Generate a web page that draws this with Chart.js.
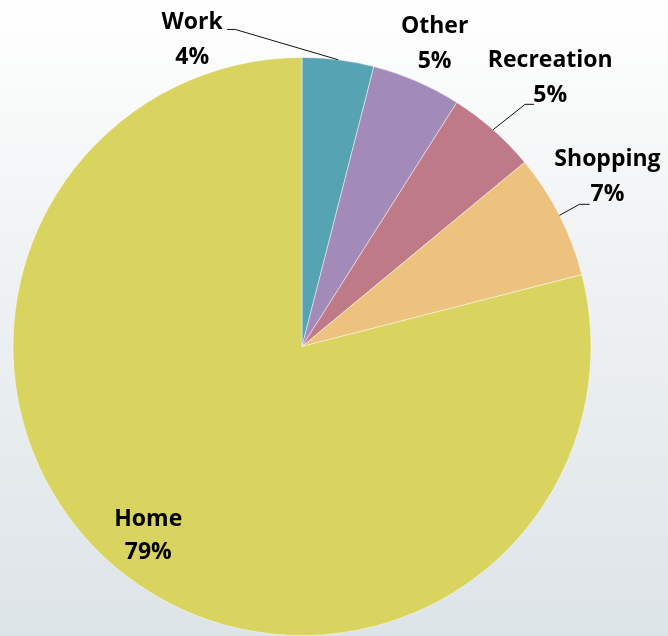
<!DOCTYPE html>
<html><head><meta charset="utf-8">
<script src="https://cdn.jsdelivr.net/npm/chart.js@4"></script>
<style>
html,body{margin:0;padding:0;}
body{width:668px;height:636px;background:linear-gradient(#ffffff 0%,#f3f5f6 30%,#dde4e8 100%);overflow:hidden;}
#wrap{position:relative;width:668px;height:636px;}
</style></head>
<body><div id="wrap"><canvas id="c" width="668" height="636"></canvas></div>
<script>
const categories = ["Work", "Other", "Recreation", "Shopping", "Home"];
const shares = [4, 5, 5, 7, 79];
const percentLabels = ["4%", "5%", "5%", "7%", "79%"];
const colors = ["#56A3B3", "#A38BB9", "#BF7A88", "#EDC27E", "#D9D35F"];

// label layout (relative to pie centre, in units of radius) and leader lines
const labelPos = [
  {ax:-0.380, ay:-1.060, leader:true, elbow:[-0.231,-1.097], end:[-0.259,-1.097]},
  {ax: 0.459, ay:-1.048, leader:false},
  {ax: 0.859, ay:-0.930, leader:true, elbow:[0.772,-0.838], end:[0.803,-0.838]},
  {ax: 1.057, ay:-0.587, leader:true, elbow:[0.960,-0.492], end:[0.995,-0.492]},
  {ax:-0.532, ay: 0.656, leader:false}
];

const labelPlugin = {
  id:'labels',
  afterDraw(chart){
    const ctx = chart.ctx;
    const meta = chart.getDatasetMeta(0);
    const a0 = meta.data[0];
    const cx = a0.x, cy = a0.y, r = a0.outerRadius;
    ctx.save();
    ctx.fillStyle = '#000';
    ctx.font = 'bold 23px "Open Sans", sans-serif';
    ctx.textAlign = 'center';
    ctx.textBaseline = 'middle';
    meta.data.forEach((arc, i) => {
      const L = labelPos[i];
      const lx = cx + L.ax * r, ly = cy + L.ay * r;
      const gap = i === 4 ? 33 : 35;
      ctx.fillText(categories[i], lx, ly - gap/2);
      ctx.fillText(percentLabels[i], lx, ly + gap/2);
      if (L.leader) {
        const mid = (arc.startAngle + arc.endAngle) / 2;
        const px = cx + Math.cos(mid) * r, py = cy + Math.sin(mid) * r;
        ctx.beginPath();
        ctx.strokeStyle = '#111';
        ctx.lineWidth = 1;
        ctx.moveTo(px, py);
        ctx.lineTo(cx + L.elbow[0]*r, cy + L.elbow[1]*r);
        ctx.lineTo(cx + L.end[0]*r, cy + L.end[1]*r);
        ctx.stroke();
      }
    });
    ctx.restore();
  }
};

new Chart(document.getElementById('c'), {
  type: 'pie',
  data: {
    labels: categories,
    datasets: [{
      data: shares,
      backgroundColor: colors,
      borderColor: 'rgba(255,255,255,0.45)',
      borderWidth: 1
    }]
  },
  options: {
    responsive: false,
    animation: false,
    layout: { padding: { left: 12, right: 76, top: 57, bottom: 0 } },
    plugins: { legend: { display: false }, tooltip: { enabled: false } }
  },
  plugins: [labelPlugin]
});
</script>
</body></html>
